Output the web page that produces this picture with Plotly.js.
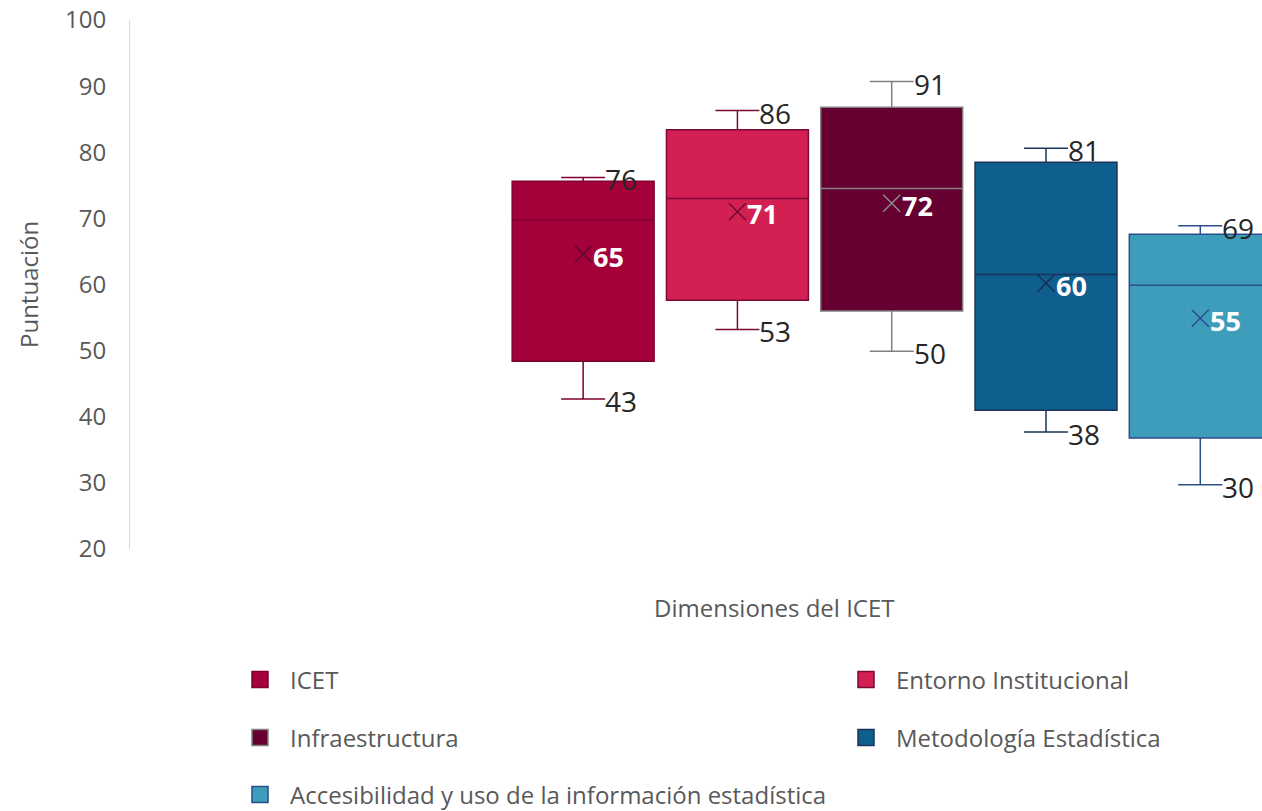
<!DOCTYPE html>
<html>
<head>
<meta charset="utf-8">
<script src="https://cdn.plot.ly/plotly-3.0.1.min.js"></script>
<style>
  html, body { margin: 0; padding: 0; background: #fff; }
  #grafico { width: 1262px; height: 811px; }
</style>
</head>
<body>
<div id="grafico"></div>
<script>
// Datos
const categorias = ['ICET', 'Entorno Institucional', 'Infraestructura', 'Metodología Estadística', 'Accesibilidad y uso de la información estadística'];
const posiciones = [1, 2, 3, 4, 5];
const minimos = [42.7, 53.2, 49.9, 37.7, 29.7];
const cuartil1 = [48.4, 57.6, 56, 41, 36.8];
const medianas = [69.8, 73, 74.5, 61.5, 59.9];
const cuartil3 = [75.6, 83.4, 86.8, 78.5, 67.6];
const maximos = [76.2, 86.3, 90.7, 80.6, 68.9];
const medias = [64.6, 71, 72.3, 60.2, 54.9];

const rellenos = ['#A4003A', '#D41F53', '#650030', '#0E5E8E', '#3E9DBB'];
const bordes = ['#7E0030', '#7A0A38', '#808080', '#1B3358', '#2C4C8A'];
const colorX = ['#5E0A2C', '#6E0A34', '#8C8C8C', '#1B2F50', '#2C4C8A'];

const anchoCaja = 0.92;
const anchoBigote = 0.31;
const fuente = '"Open Sans", "Noto Sans", sans-serif';

const trazas = [];

categorias.forEach((cat, i) => {
  trazas.push({
    type: 'box',
    name: cat,
    x: [posiciones[i]],
    q1: [cuartil1[i]],
    median: [medianas[i]],
    q3: [cuartil3[i]],
    lowerfence: [minimos[i]],
    upperfence: [maximos[i]],
    width: anchoCaja,
    whiskerwidth: anchoBigote,
    fillcolor: rellenos[i],
    line: { color: bordes[i], width: 1.5 },
    showlegend: false,
    hoverinfo: 'skip'
  });
});

// media (X)
trazas.push({
  type: 'scatter',
  mode: 'markers',
  x: posiciones,
  y: medias,
  marker: { symbol: 'x-thin', size: 17, line: { width: 1.5, color: colorX } },
  showlegend: false,
  hoverinfo: 'skip'
});

const anotaciones = [
  {
    text: 'Puntuación', xref: 'paper', yref: 'paper', x: 0, y: 0.5,
    xshift: -120, textangle: -90, showarrow: false,
    font: { family: fuente, size: 24, color: '#595959' }
  },
  {
    text: 'Dimensiones del ICET', xref: 'paper', yref: 'paper',
    x: (897 - 130) / 1132, y: 0, yshift: -77, showarrow: false,
    font: { family: fuente, size: 24, color: '#595959' }
  }
];

// etiquetas de máximo y mínimo, a la derecha del bigote
const desplaza = anchoCaja * anchoBigote / 2;
posiciones.forEach((p, i) => {
  [maximos[i], minimos[i]].forEach(v => {
    anotaciones.push({
      text: v.toFixed(0), x: p + desplaza, y: v, xref: 'x', yref: 'y',
      xanchor: 'left', yanchor: 'middle', xshift: -2, yshift: -2, showarrow: false,
      font: { family: fuente, size: 28, color: '#262626' }
    });
  });
  // etiqueta de la media en blanco y negrita
  anotaciones.push({
    text: '<b>' + medias[i].toFixed(0) + '</b>', x: p, y: medias[i], xref: 'x', yref: 'y',
    xanchor: 'left', yanchor: 'middle', xshift: 8, yshift: -2, showarrow: false,
    font: { family: fuente, size: 27, color: '#ffffff' }
  });
});

// leyenda: una entrada por leyenda, en dos columnas
const posLeyenda = [[230, 680], [836, 680], [230, 738], [836, 738], [230, 795]];
const layout = {
  width: 1262,
  height: 811,
  margin: { l: 130, r: 0, t: 20, b: 262, autoexpand: false },
  paper_bgcolor: '#ffffff',
  plot_bgcolor: '#ffffff',
  font: { family: fuente, color: '#595959' },
  xaxis: {
    range: [-1.937, 5.4],
    showticklabels: false,
    showgrid: false,
    zeroline: false,
    showline: false,
    ticks: ''
  },
  yaxis: {
    range: [20, 100],
    tickvals: [20, 30, 40, 50, 60, 70, 80, 90, 100],
    showgrid: false,
    zeroline: false,
    showline: true,
    linecolor: '#D9D9D9',
    linewidth: 1,
    ticks: '',
    ticklabelstandoff: 18,
    tickfont: { family: fuente, size: 24, color: '#595959' }
  },
  annotations: anotaciones,
  showlegend: true
};

categorias.forEach((cat, i) => {
  const clave = i === 0 ? 'legend' : 'legend' + (i + 1);
  trazas.push({
    type: 'scatter',
    mode: 'markers',
    name: cat,
    x: [null],
    y: [null],
    legend: clave,
    marker: { symbol: 'square', size: 20, color: rellenos[i], line: { color: bordes[i], width: 1.5 } },
    showlegend: true,
    hoverinfo: 'skip'
  });
  layout[clave] = {
    xref: 'container', yref: 'container',
    x: posLeyenda[i][0] / 1262,
    y: 1 - posLeyenda[i][1] / 811,
    xanchor: 'left', yanchor: 'middle',
    itemwidth: 50,
    itemsizing: 'trace',
    bgcolor: 'rgba(0,0,0,0)',
    font: { family: fuente, size: 24, color: '#595959' }
  };
});

Plotly.newPlot('grafico', trazas, layout, { displayModeBar: false, staticPlot: true });
</script>
</body>
</html>
